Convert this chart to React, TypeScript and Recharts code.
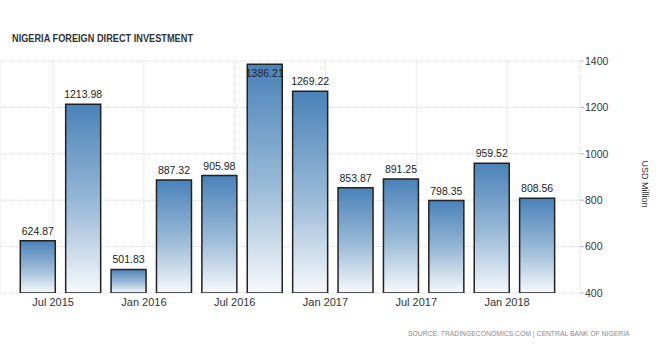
import React from 'react';
import { BarChart, Bar, XAxis, YAxis, CartesianGrid, LabelList } from 'recharts';

const periods = ['2015-06', '2015-09', '2015-12', '2016-03', '2016-06', '2016-09', '2016-12', '2017-03', '2017-06', '2017-09', '2017-12', '2018-03'];
const fdiValues = [624.87, 1213.98, 501.83, 887.32, 905.98, 1386.21, 1269.22, 853.87, 891.25, 798.35, 959.52, 808.56];
const tickPeriods = ['2015-07', '2016-01', '2016-07', '2017-01', '2017-07', '2018-01'];
const tickLabels = ['Jul 2015', 'Jan 2016', 'Jul 2016', 'Jan 2017', 'Jul 2017', 'Jan 2018'];
const yTicks = [400, 600, 800, 1000, 1200, 1400];

const monthIndex = (p: string) => {
  const [y, m] = p.split('-').map(Number);
  return y * 12 + (m - 1);
};

const data = periods.map((p, i) => ({ t: monthIndex(p), value: fdiValues[i] }));
const xTicks = tickPeriods.map(monthIndex);
const tickLabelOf = (v: number) => tickLabels[xTicks.indexOf(v)] ?? '';

const first = monthIndex(periods[0]);
const X_DOMAIN = [first - 2.51, first + 35.82];

const FONT = '"Liberation Sans", Arial, sans-serif';
const PLOT_TOP = 61;

const ValueLabel = (props: any) => {
  const { x, y, width, value } = props;
  let ty = y - 6;
  if (ty - 9 < PLOT_TOP) ty = y + 13;
  return (
    <text x={x + width / 2} y={ty} textAnchor="middle" fill="#222" fontSize={10.5} fontFamily={FONT}>
      {value.toFixed(2)}
    </text>
  );
};

export default function App() {
  return (
    <div style={{ position: 'absolute', left: 0, top: 0, width: 660, height: 360, background: '#fff' }}>
      <svg width={660} height={360} style={{ position: 'absolute', left: 0, top: 0 }}>
        <text x={12} y={42} fontSize={11} fontWeight="bold" fill="#333" fontFamily={FONT} textLength={181} lengthAdjust="spacingAndGlyphs">
          NIGERIA FOREIGN DIRECT INVESTMENT
        </text>
        <text x={408} y={336} fontSize={6.8} fill="#8a8a8a" fontFamily={FONT}>
          SOURCE: TRADINGECONOMICS.COM | CENTRAL BANK OF NIGERIA
        </text>
        <text x={642} y={184} fontSize={9} fill="#333" fontFamily={FONT} textAnchor="middle" transform="rotate(90 642 184)">
          USD Million
        </text>
      </svg>
      <div style={{ position: 'absolute', left: 0, top: 0 }}>
        <BarChart width={660} height={360} data={data} margin={{ top: PLOT_TOP, right: 0, bottom: 37, left: 0 }}>
          <defs>
            <linearGradient id="barFill" x1="0" y1="0" x2="0" y2="1">
              <stop offset="0%" stopColor="#4a82b9" />
              <stop offset="55%" stopColor="#9dbcd8" />
              <stop offset="100%" stopColor="#f7f9fc" />
            </linearGradient>
          </defs>
          <CartesianGrid stroke="#d6d6d6" strokeDasharray="1 1" />
          <XAxis
            dataKey="t"
            type="number"
            domain={X_DOMAIN}
            ticks={xTicks}
            tickFormatter={tickLabelOf}
            allowDataOverflow
            axisLine={false}
            tickLine={false}
            tickSize={0}
            tickMargin={5}
            height={30}
            tick={{ fill: '#333', fontSize: 11, fontFamily: FONT }}
          />
          <YAxis
            orientation="right"
            domain={[400, 1400]}
            ticks={yTicks}
            allowDataOverflow
            width={80}
            axisLine={false}
            tickLine={{ stroke: '#bbb' }}
            tickSize={4}
            tickMargin={1}
            tick={{ fill: '#333', fontSize: 10.5, fontFamily: FONT, textAnchor: 'start' }}
          />
          <Bar dataKey="value" barSize={35} fill="url(#barFill)" stroke="#222" strokeWidth={1.5} isAnimationActive={false}>
            <LabelList dataKey="value" content={<ValueLabel />} />
          </Bar>
        </BarChart>
      </div>
    </div>
  );
}
